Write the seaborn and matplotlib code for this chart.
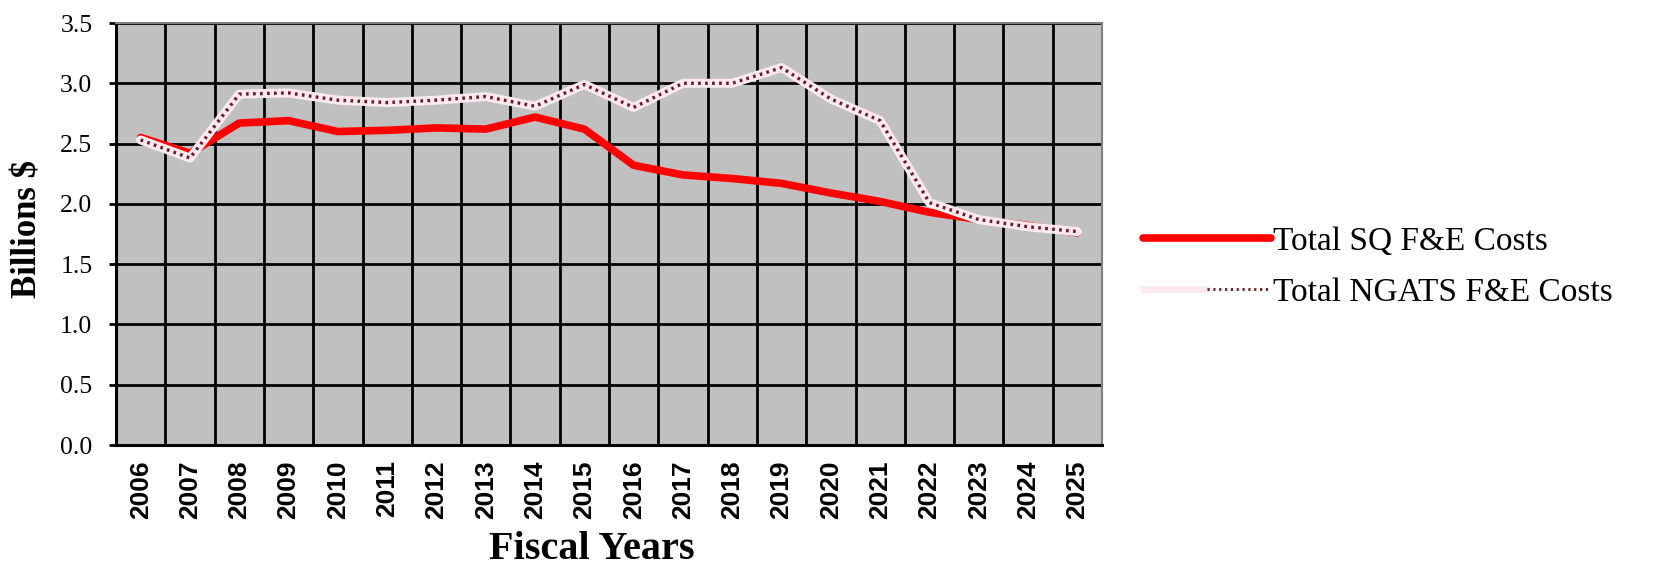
import matplotlib
matplotlib.use('Agg')
import pandas as pd
import matplotlib.pyplot as plt
import seaborn as sns
from matplotlib.lines import Line2D
from matplotlib.legend_handler import HandlerTuple
from matplotlib.ticker import MultipleLocator, FixedLocator

# values (billions $)
years = list(range(2006, 2026))
sq_costs = [2.55, 2.42, 2.67, 2.69, 2.60, 2.61, 2.63, 2.62, 2.72, 2.62,
            2.32, 2.24, 2.21, 2.17, 2.09, 2.02, 1.93, 1.87, 1.82, 1.76]
ngats_costs = [2.53, 2.38, 2.91, 2.92, 2.86, 2.84, 2.86, 2.89, 2.81, 2.99,
               2.80, 3.00, 3.00, 3.13, 2.87, 2.69, 2.01, 1.87, 1.81, 1.77]
sq_label = 'Total SQ F&E Costs'
ngats_label = 'Total NGATS F&E Costs'

df = pd.DataFrame({'year': years, 'sq': sq_costs, 'ngats': ngats_costs})

sns.set_style('white')
plt.rcParams['font.family'] = ['Liberation Serif', 'DejaVu Serif']
plt.rcParams['text.color'] = 'black'
plt.rcParams['xtick.color'] = 'black'
plt.rcParams['ytick.color'] = 'black'
plt.rcParams['axes.labelcolor'] = 'black'

fig = plt.figure(figsize=(16.54, 5.72), dpi=100)
ax = fig.add_axes([116/1654, 1-445/572, 986/1654, 422/572])
ax.set_facecolor('#c0c0c0')

red = '#ff0000'
band = '#fde9ef'
dots = '#6a1a26'

sns.lineplot(data=df, x='year', y='sq', ax=ax, color=red, lw=5.5, zorder=3)
sns.lineplot(data=df, x='year', y='ngats', ax=ax, color=band, lw=6.5, zorder=4)
sns.lineplot(data=df, x='year', y='ngats', ax=ax, color=dots, lw=2.4,
             linestyle=(0, (0.8, 1.3)), zorder=5)

ax.set_xlim(years[0]-0.5, years[-1]+0.5)
ax.set_ylim(0, 3.5)
ax.yaxis.set_major_locator(MultipleLocator(0.5))
ax.set_yticklabels(['%.1f' % v for v in ax.get_yticks()])
ax.xaxis.set_major_locator(FixedLocator(years))
ax.xaxis.set_minor_locator(FixedLocator([y + 0.5 for y in years[:-1]]))
ax.set_xticklabels([str(y) for y in years], rotation=90,
                   family='Liberation Sans', fontsize=19, fontweight='bold')
for t in ax.get_yticklabels():
    t.set_fontsize(18.5)

ax.grid(True, which='major', axis='y', color='black', lw=2.0)
ax.grid(True, which='minor', axis='x', color='black', lw=2.0)
ax.grid(False, which='major', axis='x')
ax.set_axisbelow(True)

ax.tick_params(axis='y', left=True, length=5, width=2, color='black', pad=12)
ax.tick_params(axis='x', which='both', bottom=False, length=0, pad=11)

for side in ['left', 'bottom']:
    ax.spines[side].set_color('black')
    ax.spines[side].set_linewidth(2.2)
for side in ['top', 'right']:
    ax.spines[side].set_color('#808080')
    ax.spines[side].set_linewidth(1.5)

ax.set_xlabel('Fiscal Years', fontsize=29, fontweight='bold')
ax.xaxis.set_label_coords((592-116)/986, (445-531)/422)
ax.set_ylabel('Billions $', fontsize=25, fontweight='bold')
ax.yaxis.set_label_coords((45-116)/986, (445-229)/422)

h_sq = Line2D([], [], color=red, lw=5.5)
h_ng = (Line2D([], [], color=band, lw=5),
        Line2D([], [], color=dots, lw=2, linestyle=(0, (0.8, 1.3))))
ax.legend([h_sq, h_ng], [sq_label, ngats_label],
          handler_map={tuple: HandlerTuple(ndivide=None, pad=0)},
          loc='center left', bbox_to_anchor=(1143/1654, 1-267/572),
          bbox_transform=fig.transFigure, frameon=False, fontsize=24,
          handlelength=3.85, handletextpad=0.05, labelspacing=0.62,
          borderpad=0, borderaxespad=0)

fig.savefig('out.png', dpi=100)
